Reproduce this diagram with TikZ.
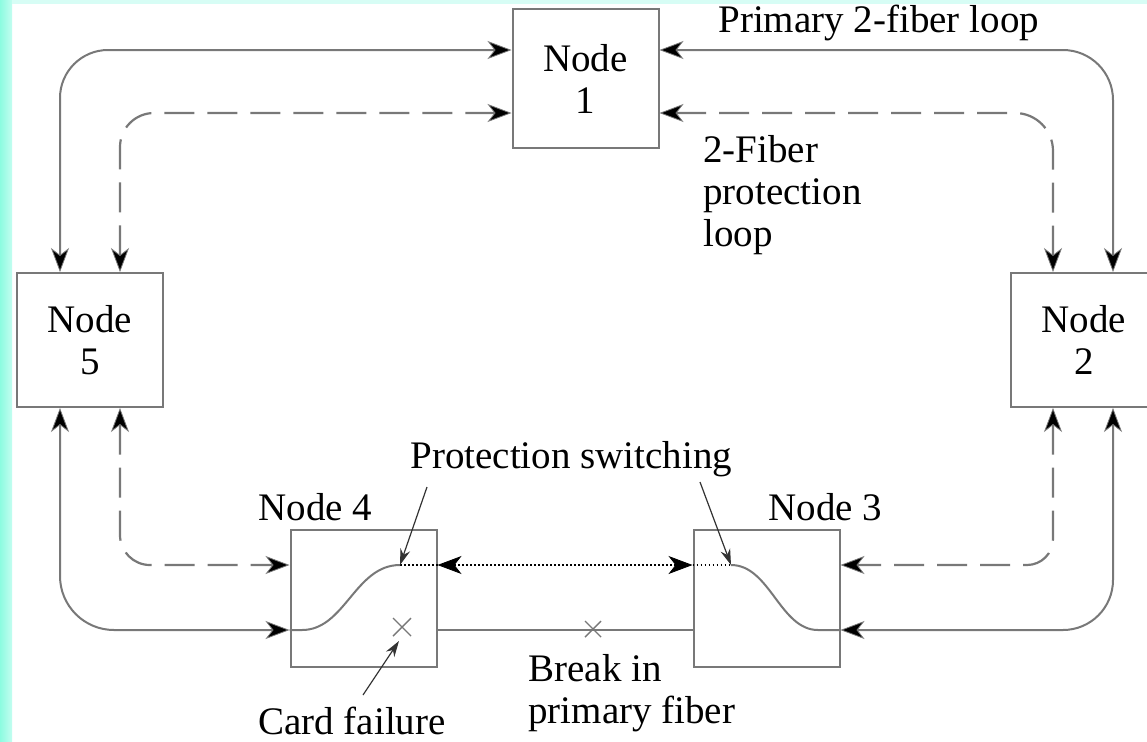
\documentclass[tikz,border=0pt]{standalone}
\usepackage{fontspec}
\setmainfont{Liberation Serif}
\usetikzlibrary{arrows.meta,calc}
\definecolor{lg}{RGB}{120,120,120}
\definecolor{cyanL}{RGB}{140,252,224}
\definecolor{cyanR}{RGB}{195,253,240}
\definecolor{cyanT}{RGB}{215,253,245}
\tikzset{
  every node/.style={font=\fontsize{19.5}{21}\selectfont, text=black, inner sep=0pt},
  box/.style={draw=lg, line width=1pt, fill=white, minimum width=73pt, align=center},
  prim/.style={draw=lg, line width=1pt},
  prot/.style={draw=lg, line width=1.1pt, dash pattern=on 15pt off 6.5pt},
  dotl/.style={draw=black, line width=0.8pt, dash pattern=on 0.8pt off 1.2pt},
  both/.style={{Stealth[length=12pt,width=9pt,inset=3.5pt,fill=black,line width=0.4pt]}-{Stealth[length=12pt,width=9pt,inset=3.5pt,fill=black,line width=0.4pt]}},
  ptr/.style={draw=black!80, line width=0.6pt, -{Stealth[length=8pt,width=5pt]}},
  xmark/.style={draw=lg, line width=0.7pt}
}
\begin{document}
\begin{tikzpicture}[x=0.5pt,y=-0.5pt]
\useasboundingbox (0,0) rectangle (1147,741);
\clip (0,0) rectangle (1147,741);
\fill[white] (0,0) rectangle (1147,741);
\shade[left color=cyanL, right color=cyanR] (0,0) rectangle (12,741);
\fill[cyanT] (12,0) rectangle (1147,4);

% helper levels
\coordinate (yA) at (0,50);
\coordinate (yB) at (0,113);
\coordinate (yC) at (0,565);
\coordinate (yD) at (0,630);
\coordinate (xA) at (60,0);
\coordinate (xB) at (120,0);
\coordinate (xC) at (1053,0);
\coordinate (xD) at (1113,0);

% nodes
\node[box, minimum height=69.5pt] (n1) at (585.5,78.5) {Node\\1};
\node[box, minimum height=67pt] (n5) at (90,340) {Node\\5};
\node[box, minimum height=67pt] (n2) at (1084,340) {Node\\2};
\node[box, minimum height=68.5pt] (n4) at (363.5,598.5) {};
\node[box, minimum height=68.5pt] (n3) at (766.5,598.5) {};

% primary loop
\draw[prim, both, rounded corners=24pt] (xA |- n5.north) |- (n1.west |- yA);
\draw[prim, both, rounded corners=25pt] (n1.east |- yA) -| (xD |- n2.north);
\draw[prim, both, rounded corners=27pt] (xA |- n5.south) |- (n4.west |- yD);
\draw[prim, both, rounded corners=25pt] (xD |- n2.south) |- (n3.east |- yD);
\draw[prim] (n4.east |- yD) -- (n3.west |- yD);

% protection loop
\draw[prot, both, rounded corners=17pt] (xB |- n5.north) |- (n1.west |- yB);
\draw[prot, both, rounded corners=19pt] (n1.east |- yB) -| (xC |- n2.north);
\draw[prot, both, rounded corners=15pt] (xB |- n5.south) |- (n4.west |- yC);
\draw[prot, both, rounded corners=13pt] (xC |- n2.south) |- (n3.east |- yC);

% switched path
\coordinate (sw4) at (400,565);
\coordinate (sw3) at (731,565);
\draw[dotl, both] (n4.east |- yC) -- (n3.west |- yC);
\draw[dotl] (sw4) -- (n4.east |- yC);
\draw[dotl] (n3.west |- yC) -- (sw3);
\draw[prim] (n4.west |- yD) -- (302,630) .. controls (345,630) and (355,565) .. (sw4);
\draw[prim] (sw3) .. controls (770,565) and (780,630) .. (818,630) -- (n3.east |- yD);

% failure marks
\coordinate (cf) at (402,627);
\coordinate (bf) at (593,629);
\draw[xmark] ($(cf)+(-9,-9)$) -- ($(cf)+(9,9)$) ($(cf)+(-9,9)$) -- ($(cf)+(9,-9)$);
\draw[xmark] ($(bf)+(-8,-8)$) -- ($(bf)+(8,8)$) ($(bf)+(-8,8)$) -- ($(bf)+(8,-8)$);

% labels
\node[anchor=base west] (lprim) at (718,32) {Primary 2-fiber loop};
\node[anchor=west, align=left] (lprot) at (703,195) {2-Fiber\\protection\\loop};
\node[anchor=base west] (l4) at (258,520) {Node 4};
\node[anchor=base west] (l3) at (768,520) {Node 3};
\node[anchor=base west] (lps) at (410,468) {Protection switching};
\node[anchor=west, align=left] (lbr) at (528,693) {Break in\\primary fiber};
\node[anchor=base west] (lcf) at (258,734) {Card failure};

% pointers
\coordinate (p1) at (427,487);
\coordinate (p2) at (700,482);
\coordinate (p3) at (363,695);
\draw[ptr] (p1) -- (sw4);
\draw[ptr] (p2) -- (sw3);
\draw[ptr] (p3) -- ($(cf)+(-3,14)$);
\end{tikzpicture}
\end{document}
